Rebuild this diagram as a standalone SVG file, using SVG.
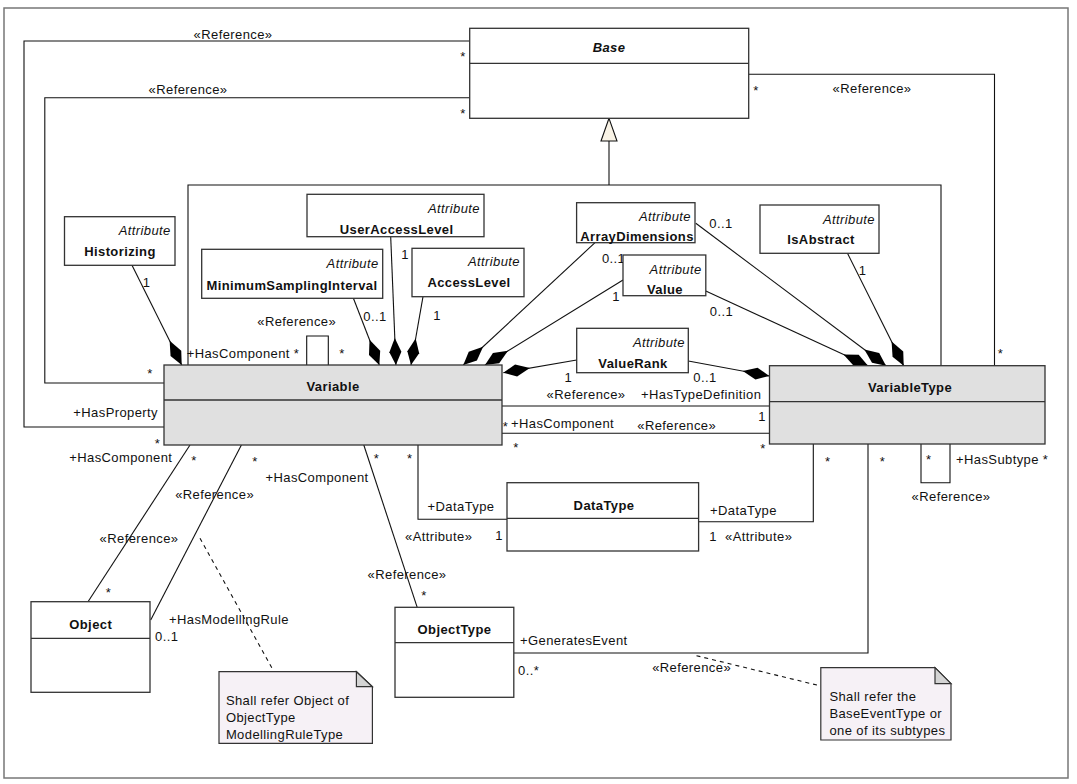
<svg xmlns="http://www.w3.org/2000/svg" width="1077" height="784" viewBox="0 0 1077 784">
<defs>
<style>
text{font-family:"Liberation Sans",Arial,sans-serif;font-size:13px;fill:#111;letter-spacing:0.4px}
.b{font-weight:bold}
.i{font-style:italic}
.bi{font-weight:bold;font-style:italic}
.m{text-anchor:middle}
.e{text-anchor:end}
.box{fill:#fff;stroke:#333;stroke-width:1.3}
.cls{fill:#e0e0e0;stroke:#333;stroke-width:1.3}
.sep{stroke:#333;stroke-width:1.3}
.c{fill:none;stroke:#111;stroke-width:1.1}
.d{fill:none;stroke:#111;stroke-width:1.1;stroke-dasharray:4 4}
.comp{fill:none;stroke:#111;stroke-width:1.1;marker-end:url(#dia)}
.note{fill:#f6f1f6;stroke:#333;stroke-width:1.2}
.fold{fill:#d4d4d4;stroke:#333;stroke-width:1.2}
</style>
<marker id="dia" markerUnits="userSpaceOnUse" viewBox="-28 -7 29 14" refX="0" refY="0" markerWidth="29" markerHeight="14" orient="auto">
<path d="M0,0 L-13,-6 L-27,0 L-13,6 Z" fill="#000"/>
</marker>
</defs>
<rect x="4" y="8" width="1064" height="770" fill="#fff" stroke="#777" stroke-width="1.5"/>

<g id="connectors">
<polyline class="c" points="188,365 188,185 941,185 941,365.7"/>
<line class="c" x1="609" y1="185" x2="609" y2="141"/>
<polygon points="609,118.3 601,141 617,141" fill="#f9f3e6" stroke="#111" stroke-width="1.1"/>
<polyline class="c" points="469.7,41 24,41 24,427 164,427"/>
<polyline class="c" points="469.7,97.7 44.8,97.7 44.8,383 164,383"/>
<polyline class="c" points="748.6,74.3 994.5,74.3 994.5,365.7"/>
<polyline class="c" points="306.7,365 306.7,336 328.3,336 328.3,365"/>
<line class="comp" x1="132" y1="265.3" x2="181.7" y2="365"/>
<line class="comp" x1="353.4" y1="298.3" x2="379.3" y2="365"/>
<line class="comp" x1="390.7" y1="236.7" x2="395.9" y2="365"/>
<line class="comp" x1="423" y1="296.7" x2="411" y2="365"/>
<line class="comp" x1="595" y1="242.7" x2="463.3" y2="365"/>
<line class="comp" x1="623" y1="280" x2="485" y2="365"/>
<line class="comp" x1="576.7" y1="360" x2="503.3" y2="372.7"/>
<line class="comp" x1="688.3" y1="361" x2="769.3" y2="376"/>
<line class="comp" x1="695.8" y1="223.3" x2="886" y2="365.7"/>
<line class="comp" x1="705.8" y1="291" x2="868" y2="365.7"/>
<line class="comp" x1="847.5" y1="253.3" x2="903.7" y2="365.7"/>
<line class="c" x1="502" y1="406" x2="769.5" y2="406"/>
<line class="c" x1="502" y1="433.3" x2="769.5" y2="433.3"/>
<line class="c" x1="190" y1="445" x2="88" y2="601.7"/>
<line class="c" x1="241.4" y1="445" x2="150.7" y2="620"/>
<line class="c" x1="363.8" y1="445" x2="417.2" y2="607.3"/>
<polyline class="c" points="418,445 418,519.3 507,519.3"/>
<polyline class="c" points="698.6,521.7 813.3,521.7 813.3,444"/>
<polyline class="c" points="921,444 921,482.7 950,482.7 950,444"/>
<polyline class="c" points="868,444 868,653 513.8,653"/>
<line class="d" x1="200" y1="538.3" x2="274" y2="671.7"/>
<line class="d" x1="696.5" y1="655.7" x2="820.8" y2="686"/>

<text class="m" x="233" y="39">«Reference»</text>
<text class="m" x="188" y="94">«Reference»</text>
<text class="m" x="463" y="61">*</text>
<text class="m" x="463" y="118">*</text>
<text class="m" x="756" y="95">*</text>
<text class="m" x="872" y="92.5">«Reference»</text>
<text class="m" x="1000.6" y="358">*</text>
<text class="e" x="158" y="416.5">+HasProperty</text>
<text class="m" x="157.6" y="448">*</text>
<text class="m" x="150" y="378">*</text>
<text class="m" x="296.7" y="326">«Reference»</text>
<text x="186.7" y="357.8">+HasComponent *</text>
<text class="m" x="342" y="358">*</text>
<text class="m" x="146.6" y="287">1</text>
<text class="m" x="375" y="320.5">0..1</text>
<text class="m" x="405" y="258.5">1</text>
<text class="m" x="437" y="319.5">1</text>
<text class="m" x="613.6" y="262.8">0..1</text>
<text class="m" x="721" y="227.8">0..1</text>
<text class="m" x="616" y="301">1</text>
<text class="m" x="721.5" y="316">0..1</text>
<text class="m" x="862.6" y="275">1</text>
<text class="m" x="568.3" y="381.8">1</text>
<text class="m" x="705" y="382">0..1</text>
<text class="m" x="586" y="399">«Reference»</text>
<text x="641" y="399">+HasTypeDefinition</text>
<text class="m" x="762" y="421">1</text>
<text x="511" y="428">+HasComponent</text>
<text class="m" x="505.5" y="431">*</text>
<text class="m" x="676.7" y="429.5">«Reference»</text>
<text class="m" x="516" y="452">*</text>
<text class="m" x="763" y="452.7">*</text>
<text class="e" x="172.4" y="462">+HasComponent</text>
<text class="m" x="194" y="465">*</text>
<text class="m" x="139" y="542.8">«Reference»</text>
<text class="m" x="108.6" y="597">*</text>
<text class="m" x="255" y="466">*</text>
<text class="m" x="214.6" y="498.8">«Reference»</text>
<text x="169" y="623.8">+HasModellingRule</text>
<text x="155" y="641">0..1</text>
<text class="m" x="376.6" y="463">*</text>
<text x="265.5" y="482">+HasComponent</text>
<text class="m" x="407" y="578.5">«Reference»</text>
<text class="m" x="424" y="600">*</text>
<text class="m" x="409.7" y="463">*</text>
<text x="427.6" y="511">+DataType</text>
<text x="405" y="540.5">«Attribute»</text>
<text class="m" x="499" y="539.5">1</text>
<text x="710" y="515">+DataType</text>
<text class="m" x="713" y="541">1</text>
<text x="725" y="540.5">«Attribute»</text>
<text class="m" x="827.7" y="466">*</text>
<text class="m" x="928.7" y="464">*</text>
<text x="956" y="463.5">+HasSubtype *</text>
<text class="m" x="951" y="500.5">«Reference»</text>
<text class="m" x="882.5" y="466">*</text>
<text x="520" y="644.5">+GeneratesEvent</text>
<text x="518" y="674.5">0..*</text>
<text class="m" x="691.6" y="671.8">«Reference»</text>
</g>

<g id="Base">
<rect class="box" x="469.7" y="28.3" width="279" height="90"/>
<line class="sep" x1="469.7" y1="63.3" x2="748.7" y2="63.3"/>
<text class="bi m" x="609" y="52">Base</text>
</g>
<g id="Historizing">
<rect class="box" x="64.5" y="216.7" width="110.5" height="48.6"/>
<text class="i e" x="170.7" y="235">Attribute</text>
<text class="b m" x="120" y="256">Historizing</text>
</g>
<g id="MinimumSamplingInterval">
<rect class="box" x="201.7" y="249.3" width="181" height="49"/>
<text class="i e" x="378.6" y="267.8">Attribute</text>
<text class="b m" x="292" y="289.5">MinimumSamplingInterval</text>
</g>
<g id="UserAccessLevel">
<rect class="box" x="307" y="194.3" width="177" height="42.4"/>
<text class="i e" x="480" y="212.8">Attribute</text>
<text class="b m" x="396.6" y="233.8">UserAccessLevel</text>
</g>
<g id="AccessLevel">
<rect class="box" x="412" y="248.3" width="112" height="48.4"/>
<text class="i e" x="520" y="266.2">Attribute</text>
<text class="b m" x="469" y="286.8">AccessLevel</text>
</g>
<g id="ArrayDimensions">
<rect class="box" x="576.6" y="202.7" width="118.4" height="40"/>
<text class="i e" x="691" y="221.2">Attribute</text>
<text class="b m" x="637" y="240.5">ArrayDimensions</text>
</g>
<g id="Value">
<rect class="box" x="623" y="255" width="82.8" height="40.7"/>
<text class="i e" x="701.6" y="273.5">Attribute</text>
<text class="b m" x="665" y="293.8">Value</text>
</g>
<g id="IsAbstract">
<rect class="box" x="760" y="205" width="119" height="48.3"/>
<text class="i e" x="875" y="223.5">Attribute</text>
<text class="b m" x="821" y="243.8">IsAbstract</text>
</g>
<g id="ValueRank">
<rect class="box" x="576.7" y="328.3" width="111.6" height="44.4"/>
<text class="i e" x="685" y="347.2">Attribute</text>
<text class="b m" x="633" y="367.8">ValueRank</text>
</g>
<g id="Variable">
<rect class="cls" x="164" y="365" width="338" height="80"/>
<line class="sep" x1="164" y1="400" x2="502" y2="400"/>
<text class="b m" x="333" y="390.5">Variable</text>
</g>
<g id="VariableType">
<rect class="cls" x="769.5" y="365.7" width="275.5" height="78.3"/>
<line class="sep" x1="769.5" y1="401.7" x2="1045" y2="401.7"/>
<text class="b m" x="910" y="391.5">VariableType</text>
</g>
<g id="DataType">
<rect class="box" x="507" y="482.7" width="191.6" height="68.3"/>
<line class="sep" x1="507" y1="518.3" x2="698.6" y2="518.3"/>
<text class="b m" x="604" y="509.5">DataType</text>
</g>
<g id="Object">
<rect class="box" x="31" y="601.7" width="119" height="90.6"/>
<line class="sep" x1="31" y1="638.3" x2="150" y2="638.3"/>
<text class="b m" x="90.7" y="628.5">Object</text>
</g>
<g id="ObjectType">
<rect class="box" x="395" y="607.3" width="118.8" height="90"/>
<line class="sep" x1="395" y1="642.7" x2="513.8" y2="642.7"/>
<text class="b m" x="454.5" y="633.8">ObjectType</text>
</g>
<g id="Note1">
<path class="note" d="M219,671.7 H356.4 L372.4,686.7 V743.3 H219 Z"/>
<path class="fold" d="M356.4,671.7 V686.7 H372.4 Z"/>
<text x="225.9" y="704.5">Shall refer Object of</text>
<text x="225.9" y="721.8">ObjectType</text>
<text x="225.9" y="738.8">ModellingRuleType</text>
</g>
<g id="Note2">
<path class="note" d="M820.8,667.7 H935 L951,683.7 V740 H820.8 Z"/>
<path class="fold" d="M935,667.7 V683.7 H951 Z"/>
<text x="829.4" y="700.5">Shall refer the</text>
<text x="829.4" y="717.8">BaseEventType or</text>
<text x="829.4" y="735.2">one of its subtypes</text>
</g>
</svg>
